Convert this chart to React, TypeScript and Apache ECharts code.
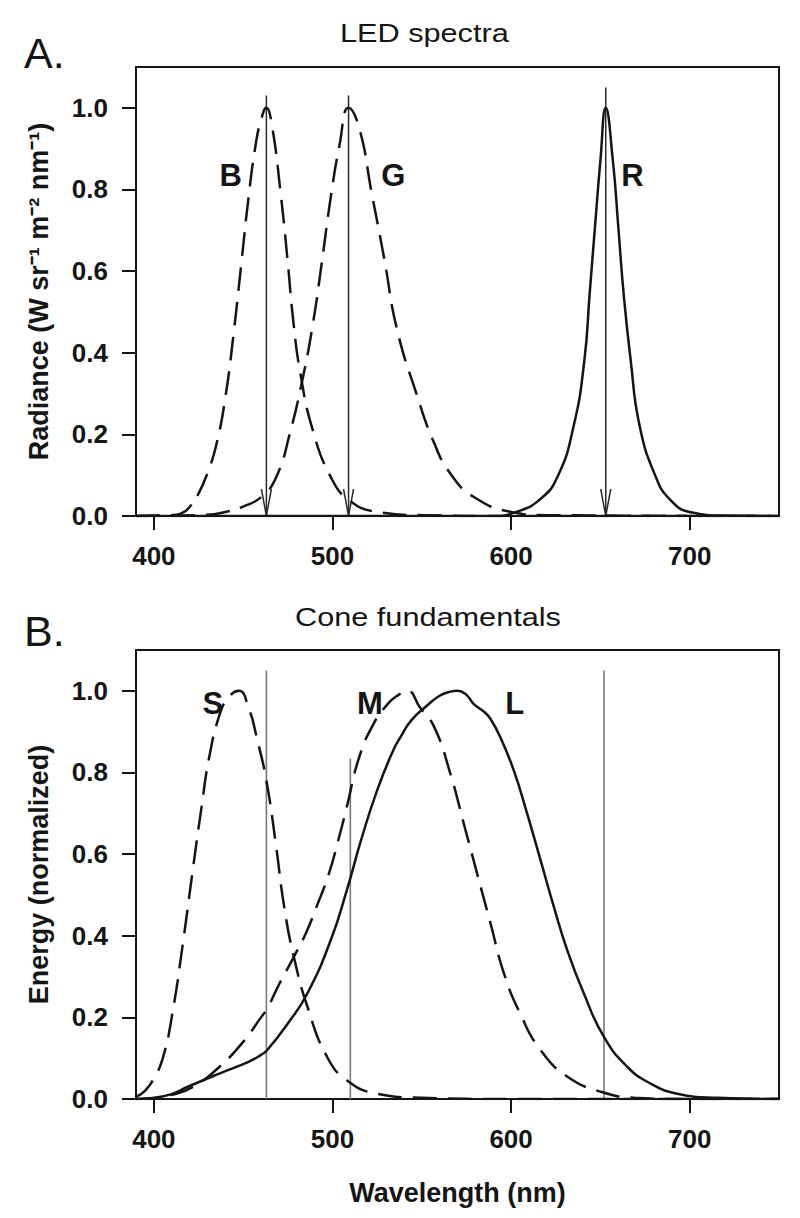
import React, { useEffect, useRef } from "react";
import * as echarts from "echarts";

// ---------- data ----------
const xTicks = [400, 500, 600, 700];
const yTicks = [0, 0.2, 0.4, 0.6, 0.8, 1.0];

// Panel A: LED spectra (wavelength nm, normalized radiance)
const ledBlue: [number, number][] = [
  [390, 0], [410, 0.002], [415, 0.006], [420, 0.022], [425, 0.055], [430, 0.105], [435, 0.175],
  [440, 0.29], [445, 0.46], [449, 0.62], [453, 0.78], [457, 0.91], [460, 0.97], [463, 1.0],
  [466, 0.96], [471, 0.79], [475, 0.62], [478, 0.48], [482, 0.35], [489, 0.21], [499, 0.096],
  [509, 0.04], [525, 0.01], [550, 0.002], [600, 0], [750, 0],
];
const ledGreen: [number, number][] = [
  [390, 0], [430, 0.003], [440, 0.01], [450, 0.023], [461, 0.05], [469, 0.1], [476, 0.2],
  [483, 0.33], [489, 0.47], [494, 0.62], [499, 0.78], [504, 0.91], [509, 1.0], [515, 0.95],
  [522, 0.79], [529, 0.63], [536, 0.46], [547, 0.3], [557, 0.178], [566, 0.104], [579, 0.047],
  [600, 0.01], [620, 0.002], [750, 0],
];
const ledRed: [number, number][] = [
  [390, 0], [590, 0], [603, 0.01], [616, 0.04], [626, 0.096], [635, 0.22], [641, 0.38],
  [644, 0.545], [647, 0.71], [650, 0.87], [653, 1.0], [657, 0.87], [660, 0.71], [663, 0.545],
  [667, 0.38], [672, 0.22], [681, 0.096], [689, 0.04], [700, 0.01], [720, 0.001], [750, 0],
];
const arrowWl = [463, 509, 653];
const arrowTop = [1.03, 1.03, 1.05];
const ledNames = ["B", "G", "R"];
const ledNameX = [443, 534, 668];
const ledNameY = [0.833, 0.833, 0.833];

// Panel B: cone fundamentals (wavelength nm, normalized energy)
const coneS: [number, number][] = [
  [390, 0.005], [395, 0.02], [400, 0.05], [405, 0.1], [410, 0.2], [416.5, 0.389], [421.5, 0.552],
  [426.7, 0.715], [431, 0.838], [437, 0.944], [442, 0.985], [447.6, 1.0], [453, 0.959],
  [458, 0.878], [463, 0.78], [468, 0.634], [473, 0.47], [478.4, 0.348], [486, 0.226],
  [497, 0.103], [508, 0.046], [525, 0.013], [550, 0.003], [600, 0], [750, 0],
];
const coneM: [number, number][] = [
  [390, 0], [400, 0.002], [410, 0.01], [422, 0.03], [436, 0.076], [450, 0.14], [460, 0.2],
  [463.5, 0.222], [470, 0.28], [478, 0.345], [485, 0.405], [491, 0.47], [498, 0.552],
  [503, 0.63], [508, 0.715], [515, 0.838], [523, 0.919], [531, 0.968], [537, 0.99], [542, 1.0],
  [549, 0.959], [557, 0.911], [566, 0.797], [573.5, 0.675], [581, 0.552], [588.5, 0.43],
  [596, 0.308], [605, 0.21], [616.5, 0.12], [631.4, 0.055], [650, 0.018], [669, 0.003],
  [700, 0], [750, 0],
];
const coneL: [number, number][] = [
  [390, 0], [398, 0.002], [410, 0.012], [419, 0.03], [437, 0.063], [453, 0.091], [460, 0.108],
  [463.5, 0.12], [475, 0.185], [486, 0.259], [499, 0.389], [508, 0.511], [516, 0.634],
  [525, 0.756], [534, 0.854], [538, 0.886], [544, 0.927], [553, 0.964], [560, 0.988],
  [566, 0.998], [570, 1.0], [575, 0.99], [579, 0.968], [585, 0.948], [588.5, 0.931],
  [594, 0.886], [601.5, 0.805], [609, 0.699], [616.5, 0.585], [624, 0.47], [631.4, 0.365],
  [640.7, 0.259], [652, 0.152], [665, 0.079], [678, 0.038], [693, 0.013], [715, 0.003], [750, 0],
];
const coneLineWl = [463, 510, 652];
const coneLineTop = [1.05, 0.834, 1.05];
const coneNames = ["S", "M", "L"];
const coneNameX = [433, 521, 602];
const coneNameY = [0.969, 0.968, 0.968];

// ---------- styling ----------
const FONT = "'Liberation Sans', Arial, Helvetica, sans-serif";
const INK = "#151515";
const DASH = [24, 11];

function makeXAxis(gridIndex: number, withName: boolean) {
  return {
    type: "value",
    gridIndex,
    min: 390,
    max: 750,
    axisLine: { show: true, onZero: false, lineStyle: { color: INK, width: 2 } },
    axisTick: { show: true, length: 14, customValues: xTicks, lineStyle: { color: INK, width: 2 } },
    axisLabel: {
      customValues: xTicks,
      margin: 27,
      fontSize: 26,
      fontWeight: "bold",
      color: INK,
      fontFamily: FONT,
    },
    splitLine: { show: false },
    name: withName ? "Wavelength (nm)" : "",
    nameLocation: "middle",
    nameGap: 80,
    nameTextStyle: { fontSize: 27, fontWeight: "bold", color: INK, fontFamily: FONT },
  };
}

function makeYAxis(gridIndex: number, name: string) {
  return {
    type: "value",
    gridIndex,
    min: 0,
    max: 1.1,
    axisLine: { show: true, onZero: false, lineStyle: { color: INK, width: 2 } },
    axisTick: { show: true, length: 14, customValues: yTicks, lineStyle: { color: INK, width: 2 } },
    axisLabel: {
      customValues: yTicks,
      margin: 28,
      fontSize: 26,
      fontWeight: "bold",
      color: INK,
      fontFamily: FONT,
      formatter: (v: number) => v.toFixed(1),
    },
    splitLine: { show: false },
    name,
    nameLocation: "middle",
    nameGap: 84,
    nameRotate: 90,
    nameTextStyle: { fontSize: 27, fontWeight: "bold", color: INK, fontFamily: FONT },
  };
}

function curve(data: [number, number][], idx: number, dashed: boolean) {
  return {
    type: "line",
    xAxisIndex: idx,
    yAxisIndex: idx,
    data,
    symbol: "none",
    showSymbol: false,
    smooth: 0.5,
    silent: true,
    lineStyle: { color: INK, width: 2.5, type: dashed ? DASH : "solid" },
  };
}

function labelSeries(idx: number, names: string[], xs: number[], ys: number[]) {
  return {
    type: "custom",
    xAxisIndex: idx,
    yAxisIndex: idx,
    silent: true,
    data: xs.map((x, i) => [x, ys[i]]),
    renderItem: (params: any, api: any) => {
      const p = api.coord([api.value(0), api.value(1)]);
      return {
        type: "text",
        x: p[0],
        y: p[1],
        style: {
          text: names[params.dataIndex],
          fontSize: 31,
          fontWeight: "bold",
          fontFamily: FONT,
          fill: INK,
          align: "center",
          verticalAlign: "middle",
        },
      };
    },
  };
}

export default function App() {
  const ref = useRef<HTMLDivElement>(null);

  useEffect(() => {
    if (!ref.current) return;
    const chart = echarts.init(ref.current, null, { renderer: "svg" });

    const option: any = {
      animation: false,
      backgroundColor: "#ffffff",
      grid: [
        { left: 136, top: 67, width: 643, height: 449, show: true, borderColor: INK, borderWidth: 2, outerBoundsMode: "none" },
        { left: 136, top: 650, width: 643, height: 449, show: true, borderColor: INK, borderWidth: 2, outerBoundsMode: "none" },
      ],
      xAxis: [makeXAxis(0, false), makeXAxis(1, true)],
      yAxis: [
        makeYAxis(0, "Radiance (W sr\u207B\u00B9 m\u207B\u00B2 nm\u207B\u00B9)"),
        makeYAxis(1, "Energy (normalized)"),
      ],
      graphic: [
        { type: "text", x: 24, y: 53, style: { text: "A.", fontSize: 43, fontFamily: FONT, fill: INK, align: "left", verticalAlign: "middle" } },
        { type: "text", x: 24, y: 631, style: { text: "B.", fontSize: 43, fontFamily: FONT, fill: INK, align: "left", verticalAlign: "middle" } },
        { type: "text", x: 340, y: 33, scaleX: 1.18, style: { text: "LED spectra", fontSize: 26, fontFamily: FONT, fill: INK, align: "left", verticalAlign: "middle" } },
        { type: "text", x: 295, y: 617, scaleX: 1.18, style: { text: "Cone fundamentals", fontSize: 26, fontFamily: FONT, fill: INK, align: "left", verticalAlign: "middle" } },
      ],
      series: [
        curve(ledBlue, 0, true),
        curve(ledGreen, 0, true),
        curve(ledRed, 0, false),
        {
          type: "custom",
          xAxisIndex: 0,
          yAxisIndex: 0,
          silent: true,
          data: arrowWl.map((w, i) => [w, arrowTop[i]]),
          renderItem: (_params: any, api: any) => {
            const p0 = api.coord([api.value(0), 0]);
            const p1 = api.coord([api.value(0), api.value(1)]);
            return {
              type: "group",
              children: [
                { type: "line", shape: { x1: p0[0], y1: p1[1], x2: p0[0], y2: p0[1] }, style: { stroke: "#2a2a2a", lineWidth: 1.5 } },
                {
                  type: "polyline",
                  shape: { points: [[p0[0] - 5, p0[1] - 27], [p0[0], p0[1]], [p0[0] + 5, p0[1] - 27]] },
                  style: { stroke: "#2a2a2a", lineWidth: 1.5, fill: "none" },
                },
              ],
            };
          },
        },
        labelSeries(0, ledNames, ledNameX, ledNameY),
        {
          type: "custom",
          xAxisIndex: 1,
          yAxisIndex: 1,
          silent: true,
          data: coneLineWl.map((w, i) => [w, coneLineTop[i]]),
          renderItem: (_params: any, api: any) => {
            const p0 = api.coord([api.value(0), 0]);
            const p1 = api.coord([api.value(0), api.value(1)]);
            return { type: "line", shape: { x1: p0[0], y1: p1[1], x2: p0[0], y2: p0[1] }, style: { stroke: "#7a7a7a", lineWidth: 1.6 } };
          },
        },
        curve(coneS, 1, true),
        curve(coneM, 1, true),
        curve(coneL, 1, false),
        labelSeries(1, coneNames, coneNameX, coneNameY),
      ],
    };

    chart.setOption(option);
    return () => chart.dispose();
  }, []);

  return (
    <div
      ref={ref}
      style={{ position: "absolute", left: 0, top: 0, width: 800, height: 1218, background: "#fff" }}
    />
  );
}
